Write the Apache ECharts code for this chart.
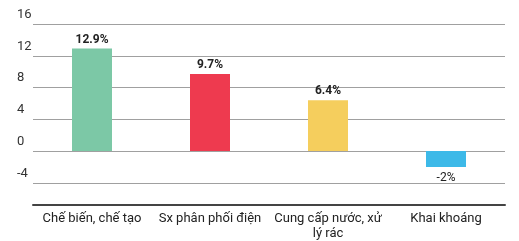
<!DOCTYPE html>
<html><head><meta charset="utf-8">
<script src="https://cdn.jsdelivr.net/npm/echarts@6/dist/echarts.min.js"></script>
<style>html,body{margin:0;padding:0;background:#fff}#c{width:519px;height:241px}</style>
</head><body><div id="c"></div>
<script>
const categories = ['Chế biến, chế tạo', 'Sx phân phối điện', 'Cung cấp nước, xử\nlý rác', 'Khai khoáng'];
const values = [12.9, 9.7, 6.4, -2];
const colors = ['#7CC8A6', '#EE3A4F', '#F5CE5D', '#3DB9E8'];
const yMin = -6.8, yMax = 16, yStep = 4;

const chart = echarts.init(document.getElementById('c'), null, {renderer: 'canvas'});
const font = 'Roboto, sans-serif';
chart.setOption({
  animation: false,
  grid: {left: 33, right: 14, top: 24, bottom: 33},
  xAxis: {type: 'category', data: categories,
    axisLine: {show: true, onZero: false, lineStyle: {color: '#444', width: 2}}, axisTick: {show: false},
    splitLine: {show: false}, splitArea: {show: false},
    axisLabel: {margin: 6, color: '#222', fontFamily: font, fontSize: 13, lineHeight: 15, interval: 0}},
  yAxis: {type: 'value', min: yMin, max: yMax, minInterval: yStep, maxInterval: yStep,
    axisLine: {show: false}, axisTick: {show: false},
    axisLabel: {margin: 16, align: 'left', showMinLabel: false, verticalAlign: 'bottom', padding: [0, 0, 3, 0],
                color: '#333', fontFamily: font, fontSize: 13},
    splitLine: {show: true, lineStyle: {color: '#a0a0a0', width: 1}}},
  series: [{
    type: 'bar', barWidth: 40,
    data: values.map((v, i) => ({
      value: v,
      itemStyle: {color: colors[i]},
      label: v < 0 ? {position: 'bottom', fontWeight: 'normal', distance: 5} : {position: 'top', fontWeight: 'bold', distance: 3}
    })),
    label: {show: true, formatter: p => p.value + '%', color: '#222', fontFamily: font, fontSize: 12}
  }]
});
</script></body></html>
